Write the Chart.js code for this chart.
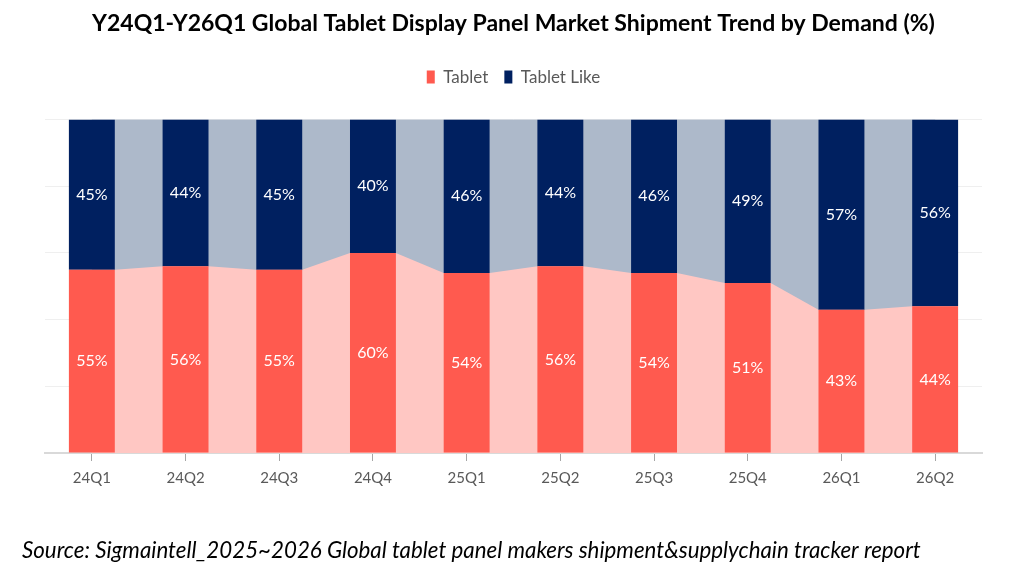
<!DOCTYPE html>
<html>
<head>
<meta charset="utf-8">
<script src="https://cdn.jsdelivr.net/npm/chart.js@4"></script>
<style>
  html, body { margin: 0; padding: 0; background: #fff; }
  #wrap { width: 1025px; height: 578px; }
</style>
</head>
<body>
<div id="wrap"><canvas id="shareChart"></canvas></div>
<script>
var quarters = ['24Q1', '24Q2', '24Q3', '24Q4', '25Q1', '25Q2', '25Q3', '25Q4', '26Q1', '26Q2'];
var tablet = [55, 56, 55, 60, 54, 56, 54, 51, 43, 44];
var tabletLike = [45, 44, 45, 40, 46, 44, 46, 49, 57, 56];
var yTicks = [0, 20, 40, 60, 80, 100];

var FONT = 'Lato, "Open Sans", sans-serif';

// light areas behind the bars, joining the bar edges
var areaPlugin = {
    id: 'areas',
    afterInit: function (chart) {
        // extra room under the legend
        var fit = chart.legend.fit;
        chart.legend.fit = function () {
            fit.call(this);
            this.height += 24;
        };
    },
    beforeDatasetsDraw: function (chart) {
        var bars = chart.getDatasetMeta(0).data;
        if (!bars.length) return;
        var y = chart.scales.y;
        var ctx = chart.ctx;
        var top = y.getPixelForValue(100);
        var base = y.getPixelForValue(0);
        var first = bars[0], last = bars[bars.length - 1];
        ctx.save();
        ctx.fillStyle = '#ADB9CA';
        ctx.fillRect(first.x, top, last.x - first.x, base - top);
        ctx.fillStyle = '#FFC7C3';
        ctx.beginPath();
        ctx.moveTo(first.x, base);
        bars.forEach(function (b) {
            ctx.lineTo(b.x - b.width / 2, b.y);
            ctx.lineTo(b.x + b.width / 2, b.y);
        });
        ctx.lineTo(last.x, base);
        ctx.closePath();
        ctx.fill();
        ctx.restore();
    }
};

// percent labels in the middle of each segment, plus source line
var labelPlugin = {
    id: 'labels',
    afterDatasetsDraw: function (chart) {
        var ctx = chart.ctx;
        ctx.save();
        ctx.font = '16px ' + FONT;
        ctx.fillStyle = '#ffffff';
        ctx.textAlign = 'center';
        ctx.textBaseline = 'middle';
        chart.data.datasets.forEach(function (ds, i) {
            chart.getDatasetMeta(i).data.forEach(function (el, j) {
                var p = el.getCenterPoint();
                ctx.fillText(ds.data[j] + '%', p.x, p.y);
            });
        });
        ctx.restore();
    },
    afterDraw: function (chart) {
        var ctx = chart.ctx;
        ctx.save();
        ctx.font = 'italic 22.3px ' + FONT;
        ctx.fillStyle = '#000000';
        ctx.textBaseline = 'middle';
        ctx.fillText('Source: Sigmaintell_2025~2026 Global tablet panel makers shipment&supplychain tracker report', 22, 551);
        ctx.restore();
    }
};

var shareConfig = {
    type: 'bar',
    data: {
        labels: quarters,
        datasets: [{
            label: 'Tablet',
            data: tablet,
            backgroundColor: '#FF5A4F',
            barPercentage: 0.98,
            categoryPercentage: 0.5
        }, {
            label: 'Tablet Like',
            data: tabletLike,
            backgroundColor: '#002060',
            barPercentage: 0.98,
            categoryPercentage: 0.5
        }]
    },
    options: {
        responsive: true,
        maintainAspectRatio: false,
        animation: false,
        layout: {
            padding: { left: 45, right: 43, top: 0, bottom: 83 }
        },
        scales: {
            x: {
                stacked: true,
                grid: {
                    drawOnChartArea: false,
                    drawTicks: true,
                    tickLength: 8,
                    offset: false,
                    color: '#A6A6A6'
                },
                border: { color: '#D9D9D9', width: 2 },
                ticks: {
                    color: '#595959',
                    font: { family: FONT, size: 15 },
                    padding: 8
                }
            },
            y: {
                stacked: true,
                min: 0,
                max: 100,
                afterBuildTicks: function (scale) {
                    scale.ticks = yTicks.map(function (v) { return { value: v }; });
                },
                grid: { color: '#EFEFEF', drawTicks: false },
                border: { display: false },
                ticks: { display: false }
            }
        },
        plugins: {
            title: {
                display: true,
                text: 'Y24Q1-Y26Q1 Global Tablet Display Panel Market Shipment Trend by Demand (%)',
                color: '#000000',
                font: { family: FONT, size: 23, weight: 'bold' },
                padding: { top: 10, bottom: 15 }
            },
            legend: {
                display: true,
                labels: {
                    color: '#595959',
                    font: { family: FONT, size: 17 },
                    boxWidth: 8,
                    boxHeight: 13,
                    padding: 16
                }
            },
            tooltip: { enabled: false }
        }
    },
    plugins: [areaPlugin, labelPlugin]
};

var ctx = document.getElementById('shareChart').getContext('2d');
var shareChart = new Chart(ctx, shareConfig);
</script>
</body>
</html>
